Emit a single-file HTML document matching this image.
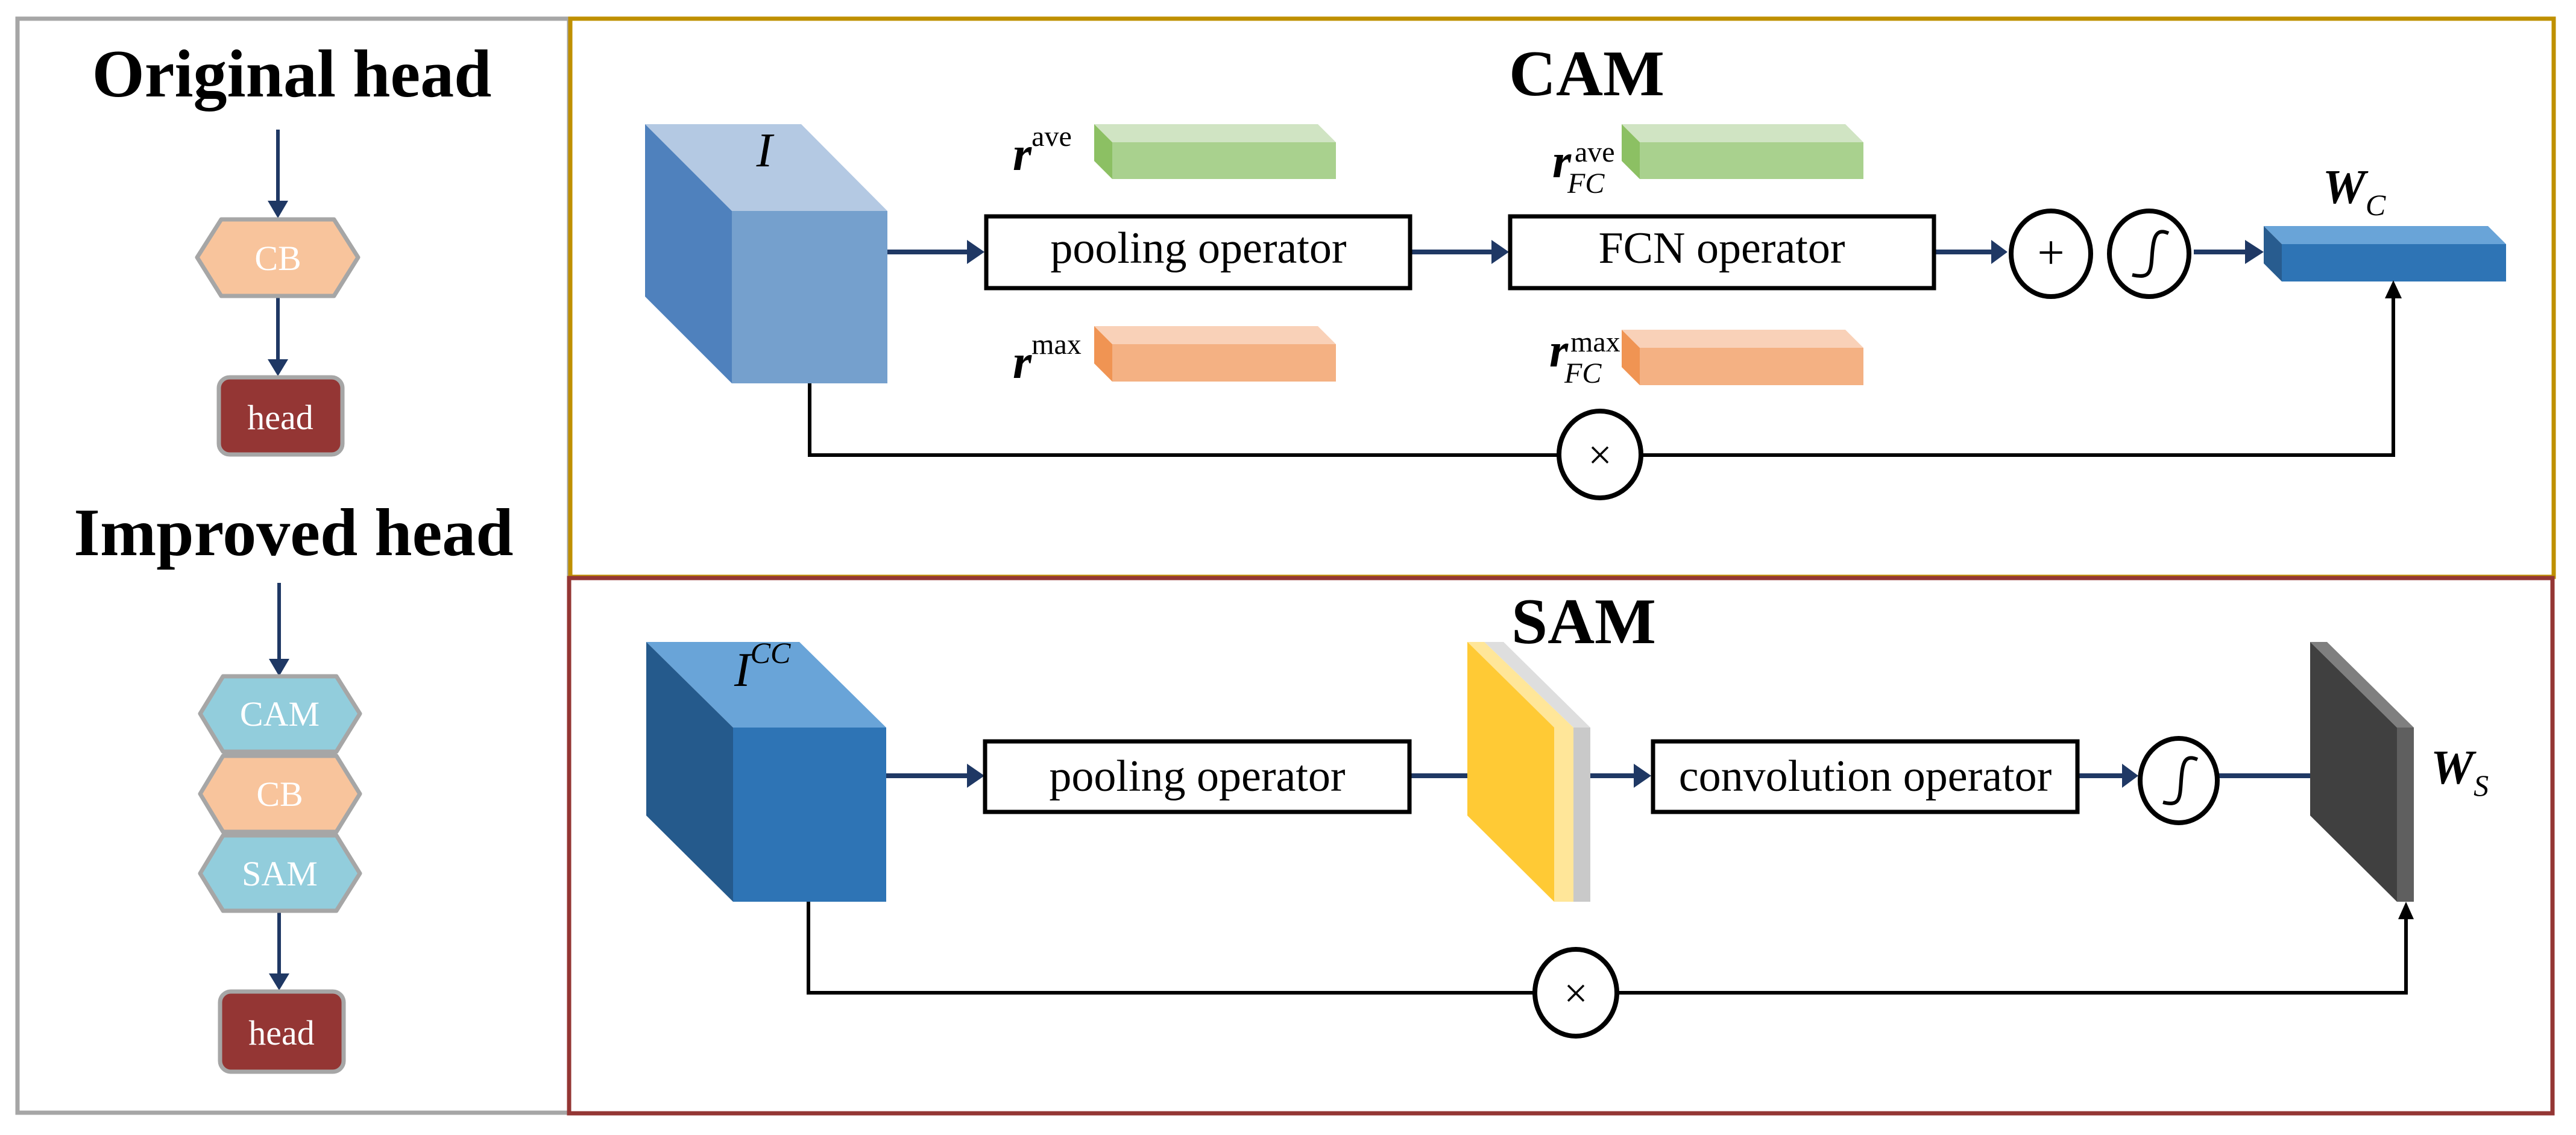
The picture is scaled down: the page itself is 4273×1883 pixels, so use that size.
<!DOCTYPE html>
<html><head><meta charset="utf-8"><style>
html,body{margin:0;padding:0;background:#fff}
svg{display:block}
svg text{font-family:"Liberation Serif","DejaVu Serif",serif}
</style></head><body>
<svg width="4273" height="1883" viewBox="0 0 4273 1883" xmlns="http://www.w3.org/2000/svg" font-family="Liberation Serif, DejaVu Serif, serif">
<rect width="4273" height="1883" fill="#fff"/>
<!-- panels -->
<rect x="29" y="31" width="915" height="1815" fill="none" stroke="#A6A6A6" stroke-width="7"/>
<rect x="946" y="31" width="3290" height="926" fill="none" stroke="#BF9000" stroke-width="7"/>
<rect x="944" y="959" width="3290" height="888" fill="none" stroke="#943634" stroke-width="7"/>

<!-- Left panel -->
<text x="484" y="160" font-size="112" font-weight="bold" text-anchor="middle">Original head</text>
<g stroke="#1F3864" stroke-width="6" fill="#1F3864">
<line x1="461" y1="215" x2="461" y2="335"/>
<polygon points="444,333 478,333 461,362" stroke="none"/>
<line x1="461" y1="492" x2="461" y2="598"/>
<polygon points="444,596 478,596 461,624" stroke="none"/>
</g>
<polygon points="367,364 554,364 594,427 554,491 367,491 327,427" fill="#F8C49C" stroke="#A6A6A6" stroke-width="7" stroke-linejoin="round"/>
<text x="461" y="448" font-size="58" fill="#fff" text-anchor="middle">CB</text>
<rect x="363" y="626" width="205" height="128" rx="18" fill="#943634" stroke="#A6A6A6" stroke-width="7"/>
<text x="465" y="712" font-size="58" fill="#fff" text-anchor="middle">head</text>

<text x="487" y="921" font-size="112" font-weight="bold" text-anchor="middle">Improved head</text>
<g stroke="#1F3864" stroke-width="6" fill="#1F3864">
<line x1="463" y1="967" x2="463" y2="1095"/>
<polygon points="446,1093 480,1093 463,1122" stroke="none"/>
<line x1="463" y1="1512" x2="463" y2="1617"/>
<polygon points="446,1615 480,1615 463,1643" stroke="none"/>
</g>
<polygon points="370,1122 558,1122 597,1184 558,1247 370,1247 332,1184" fill="#92CDDC" stroke="#A6A6A6" stroke-width="7" stroke-linejoin="round"/>
<text x="464" y="1204" font-size="58" fill="#fff" text-anchor="middle">CAM</text>
<polygon points="370,1254 558,1254 597,1317 558,1380 370,1380 332,1317" fill="#F8C49C" stroke="#A6A6A6" stroke-width="7" stroke-linejoin="round"/>
<text x="464" y="1337" font-size="58" fill="#fff" text-anchor="middle">CB</text>
<polygon points="370,1386 558,1386 597,1449 558,1511 370,1511 332,1449" fill="#92CDDC" stroke="#A6A6A6" stroke-width="7" stroke-linejoin="round"/>
<text x="464" y="1469" font-size="58" fill="#fff" text-anchor="middle">SAM</text>
<rect x="365" y="1645" width="205" height="133" rx="18" fill="#943634" stroke="#A6A6A6" stroke-width="7"/>
<text x="467" y="1733" font-size="58" fill="#fff" text-anchor="middle">head</text>

<!-- CAM -->
<text x="2632" y="158" font-size="108" font-weight="bold" text-anchor="middle">CAM</text>
<polygon points="1070,206 1329,206 1472,350 1214,350" fill="#B4C9E3"/>
<polygon points="1070,206 1214,350 1214,636 1070,492" fill="#4F81BD"/>
<rect x="1214" y="350" width="258" height="286" fill="#75A0CD"/>
<text x="1268" y="276" font-size="80" font-style="italic" text-anchor="middle">I</text>

<g stroke="#1F3864" stroke-width="8" fill="#1F3864">
<line x1="1472" y1="418" x2="1610" y2="418"/>
<polygon points="1604,398 1633,418 1604,438" stroke="none"/>
<line x1="2340" y1="418" x2="2480" y2="418"/>
<polygon points="2474,398 2503,418 2474,438" stroke="none"/>
<line x1="3210" y1="418" x2="3310" y2="418"/>
<polygon points="3303,398 3330,418 3303,438" stroke="none"/>
<line x1="3639" y1="418" x2="3730" y2="418"/>
<polygon points="3724,398 3755,418 3724,438" stroke="none"/>
</g>
<rect x="1636" y="359" width="703" height="119" fill="#fff" stroke="#000" stroke-width="7"/>
<text x="1988" y="436" font-size="74" text-anchor="middle">pooling operator</text>
<rect x="2505" y="359" width="703" height="119" fill="#fff" stroke="#000" stroke-width="7"/>
<text x="2856" y="436" font-size="74" text-anchor="middle">FCN operator</text>

<ellipse cx="3402" cy="421" rx="66" ry="71" fill="#fff" stroke="#000" stroke-width="8"/>
<text x="3402" y="446" font-size="80" text-anchor="middle">+</text>
<ellipse cx="3565" cy="421" rx="66" ry="71" fill="#fff" stroke="#000" stroke-width="8"/>
<path d="M3597,387 C3575,377 3572,397 3570,420 C3568,450 3568,463 3537,456" fill="none" stroke="#000" stroke-width="6"/>

<polygon points="3755,375 4127,375 4157,405 3785,405" fill="#69A4D8"/>
<polygon points="3755,375 3785,405 3785,467 3755,437" fill="#285C8F"/>
<rect x="3785" y="405" width="372" height="62" fill="#2E74B5"/>
<text x="3905" y="337" font-size="80" font-style="italic" font-weight="bold" text-anchor="middle">W<tspan font-size="50" font-weight="normal" dy="20">C</tspan></text>

<!-- green boxes -->
<polygon points="1815,206 2186,206 2216,236 1845,236" fill="#D0E4C3"/>
<polygon points="1815,206 1845,236 1845,297 1815,267" fill="#8CC063"/>
<rect x="1845" y="236" width="371" height="61" fill="#A9D18E"/>
<polygon points="2690,206 3061,206 3091,236 2720,236" fill="#D0E4C3"/>
<polygon points="2690,206 2720,236 2720,297 2690,267" fill="#8CC063"/>
<rect x="2720" y="236" width="371" height="61" fill="#A9D18E"/>
<!-- orange boxes -->
<polygon points="1815,541 2186,541 2216,571 1845,571" fill="#F9D1B8"/>
<polygon points="1815,541 1845,571 1845,633 1815,603" fill="#F09453"/>
<rect x="1845" y="571" width="371" height="62" fill="#F4B183"/>
<polygon points="2690,547 3061,547 3091,577 2720,577" fill="#F9D1B8"/>
<polygon points="2690,547 2720,577 2720,639 2690,609" fill="#F09453"/>
<rect x="2720" y="577" width="371" height="62" fill="#F4B183"/>

<text x="1680" y="282" font-size="80" font-style="italic" font-weight="bold">r<tspan font-size="48" font-style="normal" font-weight="normal" dy="-40">ave</tspan></text>
<text x="1680" y="627" font-size="80" font-style="italic" font-weight="bold">r<tspan font-size="48" font-style="normal" font-weight="normal" dy="-40">max</tspan></text>
<text x="2575" y="294" font-size="80" font-style="italic" font-weight="bold">r</text>
<text x="2612" y="268" font-size="48">ave</text>
<text x="2600" y="320" font-size="48" font-style="italic">FC</text>
<text x="2570" y="608" font-size="80" font-style="italic" font-weight="bold">r</text>
<text x="2605" y="583" font-size="48">max</text>
<text x="2595" y="635" font-size="48" font-style="italic">FC</text>

<!-- CAM bottom loop -->
<polyline points="1343,636 1343,755 3970,755 3970,490" fill="none" stroke="#000" stroke-width="6"/>
<polygon points="3956,495 3984,495 3970,465" fill="#000"/>
<ellipse cx="2654" cy="754" rx="68" ry="72" fill="#fff" stroke="#000" stroke-width="8"/>
<text x="2654" y="778" font-size="70" text-anchor="middle">×</text>

<!-- SAM -->
<text x="2627" y="1067" font-size="108" font-weight="bold" text-anchor="middle">SAM</text>
<polygon points="1072,1065 1326,1065 1470,1207 1216,1207" fill="#69A4D8"/>
<polygon points="1072,1065 1216,1207 1216,1496 1072,1353" fill="#255A8C"/>
<rect x="1216" y="1207" width="254" height="289" fill="#2E74B5"/>
<text x="1218" y="1138" font-size="80" font-style="italic">I<tspan font-size="50" dy="-38">CC</tspan></text>

<g stroke="#1F3864" stroke-width="8" fill="#1F3864">
<line x1="1470" y1="1287" x2="1610" y2="1287"/>
<polygon points="1604,1267 1633,1287 1604,1307" stroke="none"/>
<line x1="2341" y1="1287" x2="2507" y2="1287"/>
<line x1="2638" y1="1287" x2="2715" y2="1287"/>
<polygon points="2710,1267 2739,1287 2710,1307" stroke="none"/>
<line x1="3449" y1="1287" x2="3525" y2="1287"/>
<polygon points="3520,1267 3547,1287 3520,1307" stroke="none"/>
<line x1="3681" y1="1287" x2="3840" y2="1287"/>
<polygon points="3836,1267 3864,1287 3836,1307" stroke="none"/>
</g>
<rect x="1634" y="1230" width="704" height="117" fill="#fff" stroke="#000" stroke-width="7"/>
<text x="1986" y="1312" font-size="74" text-anchor="middle">pooling operator</text>
<rect x="2742" y="1230" width="704" height="117" fill="#fff" stroke="#000" stroke-width="7"/>
<text x="3094" y="1312" font-size="74" text-anchor="middle">convolution operator</text>

<!-- yellow plane -->
<polygon points="2462,1065 2494,1065 2638,1207 2638,1496 2610,1496 2610,1207" fill="#DEDEDE"/>
<rect x="2610" y="1207" width="28" height="289" fill="#C9C9C9"/>
<polygon points="2434,1065 2462,1065 2610,1207 2610,1496 2578,1496" fill="#FFE699"/>
<polygon points="2434,1065 2578,1207 2578,1496 2434,1353" fill="#FFCA35"/>

<ellipse cx="3614" cy="1295" rx="64" ry="70" fill="#fff" stroke="#000" stroke-width="8"/>
<path d="M3645,1260 C3622,1250 3620,1270 3618,1295 C3616,1325 3616,1338 3588,1331" fill="none" stroke="#000" stroke-width="6"/>

<!-- W_S plane -->
<polygon points="3832,1065 3860,1065 4004,1207 3976,1207" fill="#7F7F7F"/>
<rect x="3976" y="1207" width="28" height="289" fill="#5F5F5F"/>
<polygon points="3832,1065 3976,1207 3976,1496 3832,1353" fill="#404040"/>
<text x="4032" y="1300" font-size="80" font-style="italic" font-weight="bold">W<tspan font-size="50" font-weight="normal" dy="20">S</tspan></text>

<polyline points="1341,1496 1341,1647 3991,1647 3991,1520" fill="none" stroke="#000" stroke-width="6"/>
<polygon points="3978,1525 4004,1525 3991,1496" fill="#000"/>
<ellipse cx="2614" cy="1647" rx="68" ry="72" fill="#fff" stroke="#000" stroke-width="8"/>
<text x="2614" y="1671" font-size="70" text-anchor="middle">×</text>
</svg>
</body></html>
